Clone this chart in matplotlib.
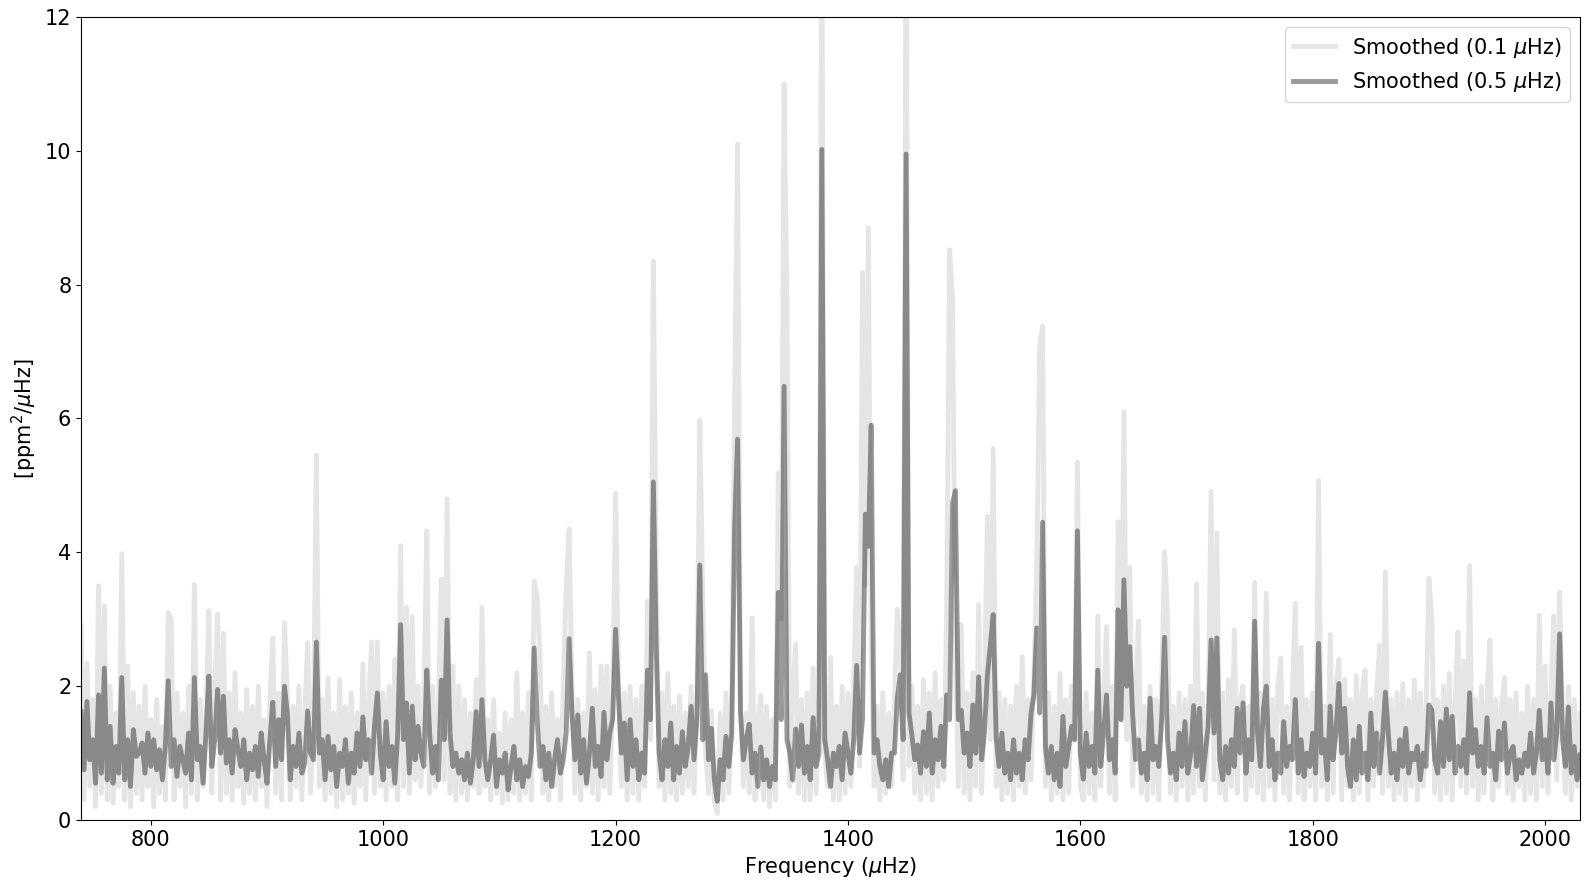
import numpy as np
import matplotlib
matplotlib.use("Agg")
import matplotlib.pyplot as plt

# frequency grid of the read-off values (muHz)
freq_start = 740.0
freq_step = 2.5

# power density smoothed over 0.1 muHz, one row per 25 muHz, starting at 740
light_power = [
    2.9, 0.3, 2.35, 0.5, 1.8, 0.2, 3.5, 0.4, 3.2, 0.3,      # 740
    2.0, 0.25, 1.6, 0.5, 3.98, 0.3, 2.3, 0.2, 1.9, 0.4,     # 765
    1.7, 0.3, 2.0, 0.5, 1.5, 0.2, 1.8, 0.4, 1.4, 0.3,       # 790
    3.1, 3.0, 0.3, 1.9, 0.5, 1.6, 0.2, 2.0, 0.4, 3.52,      # 815
    0.3, 1.8, 0.5, 1.6, 3.13, 0.4, 2.0, 3.08, 0.3, 2.79,    # 840
    0.4, 1.9, 0.3, 2.2, 0.5, 1.6, 0.25, 1.95, 0.4, 1.7,     # 865
    0.3, 2.0, 0.5, 1.5, 0.2, 1.8, 2.72, 0.4, 1.9, 0.3,      # 890
    2.95, 1.9, 0.3, 1.7, 0.5, 2.0, 0.3, 1.6, 2.65, 0.4,     # 915
    1.5, 5.45, 0.5, 1.8, 0.3, 2.12, 0.4, 1.6, 0.2, 2.1,     # 940
    0.3, 1.7, 0.4, 1.9, 0.25, 1.6, 0.5, 2.33, 0.3, 1.8,     # 965
    2.66, 0.4, 2.66, 0.5, 1.9, 0.3, 2.0, 0.5, 2.4, 0.3,     # 990
    4.1, 0.5, 3.18, 0.4, 3.04, 0.6, 2.0, 0.5, 1.8, 4.32,    # 1015
    0.4, 2.0, 0.5, 1.7, 3.6, 0.6, 4.8, 0.4, 2.3, 0.3,       # 1040
    2.0, 0.4, 1.8, 0.3, 1.6, 0.5, 2.1, 0.4, 3.18, 0.5,      # 1065
    1.5, 0.3, 1.8, 0.4, 1.3, 0.25, 1.6, 0.3, 1.5, 0.4,      # 1090
    2.2, 0.3, 1.6, 0.4, 1.9, 0.3, 3.57, 3.34, 2.44, 0.4,    # 1115
    1.7, 0.3, 1.9, 0.5, 1.5, 0.3, 2.0, 3.46, 4.35, 1.92,    # 1140
    0.4, 1.8, 0.3, 1.6, 0.5, 2.5, 0.4, 1.95, 0.3, 2.3,      # 1165
    0.5, 2.3, 0.4, 1.8, 4.88, 2.1, 0.5, 1.9, 0.3, 2.0,      # 1190
    0.4, 1.8, 0.3, 2.0, 0.5, 3.27, 1.2, 8.35, 3.73, 0.5,    # 1215
    1.9, 0.3, 2.19, 0.4, 1.7, 0.3, 1.85, 0.4, 1.6, 0.5,     # 1240
    2.0, 0.4, 1.9, 5.98, 3.41, 1.0, 0.4, 1.64, 0.3, 0.1,    # 1265
    1.6, 0.3, 1.9, 0.4, 2.0, 6.4, 10.1, 1.8, 0.5, 1.6,      # 1290
    0.4, 3.02, 0.3, 1.5, 1.86, 0.3, 1.7, 0.2, 1.5, 0.3,     # 1315
    5.18, 3.0, 11.0, 7.7, 0.5, 1.9, 2.63, 0.4, 1.8, 0.3,    # 1340
    1.9, 0.3, 2.27, 0.4, 1.8, 14.0, 1.0, 0.5, 2.43, 0.3,    # 1365
    1.7, 0.3, 2.0, 0.4, 1.9, 0.5, 2.1, 3.78, 0.8, 8.18,     # 1390
    3.5, 8.85, 2.5, 0.5, 1.7, 0.3, 1.9, 0.4, 1.6, 0.5,      # 1415
    1.8, 3.15, 2.58, 0.6, 14.0, 0.8, 2.0, 0.4, 1.7, 0.3,    # 1440
    2.1, 0.4, 1.9, 0.3, 2.2, 0.5, 1.8, 0.6, 3.25, 8.52,     # 1465
    7.8, 2.5, 0.5, 2.92, 0.4, 1.9, 0.3, 2.2, 0.5, 3.22,     # 1490
    0.4, 2.0, 4.54, 1.2, 5.55, 0.5, 1.9, 0.3, 1.8, 0.4,     # 1515
    1.7, 0.3, 2.0, 0.5, 2.44, 0.4, 1.8, 0.6, 2.2, 3.74,     # 1540
    7.1, 7.38, 0.5, 1.9, 0.3, 1.7, 0.4, 2.19, 0.3, 1.8,     # 1565
    0.4, 2.0, 1.2, 5.35, 0.5, 0.3, 1.9, 0.4, 1.6, 0.3,      # 1590
    3.05, 0.5, 1.8, 2.89, 0.4, 2.0, 0.3, 4.46, 1.5, 6.1,    # 1615
    1.2, 3.78, 0.5, 1.9, 2.97, 0.4, 1.7, 0.3, 2.0, 0.4,     # 1640
    1.8, 0.3, 2.1, 4.01, 3.09, 0.4, 1.7, 0.3, 1.9, 0.5,     # 1665
    1.8, 0.3, 2.0, 0.4, 3.53, 0.5, 1.9, 0.3, 1.6, 4.91,     # 1690
    0.6, 4.29, 0.4, 1.9, 0.3, 2.1, 0.5, 2.84, 0.4, 1.8,     # 1715
    2.0, 0.3, 1.7, 0.5, 3.55, 0.4, 1.9, 0.3, 3.39, 0.5,     # 1740
    1.8, 0.3, 2.0, 2.42, 0.4, 1.7, 0.3, 1.9, 3.24, 0.4,     # 1765
    2.58, 0.3, 1.8, 0.5, 1.9, 0.3, 5.07, 0.5, 1.7, 0.3,     # 1790
    2.77, 0.4, 2.0, 2.4, 0.3, 2.1, 0.5, 1.8, 0.3, 2.15,     # 1815
    0.4, 1.9, 2.24, 0.3, 1.8, 0.5, 1.9, 2.61, 0.4, 3.71,    # 1840
    0.5, 1.8, 0.3, 1.9, 0.4, 2.04, 0.3, 1.8, 0.5, 2.09,     # 1865
    0.3, 1.9, 0.5, 1.7, 3.61, 3.0, 0.4, 1.8, 0.3, 2.0,      # 1890
    0.4, 2.19, 0.3, 1.8, 2.81, 0.5, 2.38, 0.4, 3.8, 0.5,    # 1915
    1.8, 0.3, 2.0, 0.4, 1.9, 2.69, 0.3, 1.8, 0.5, 1.7,      # 1940
    2.13, 0.4, 1.8, 0.3, 1.9, 0.5, 1.6, 0.3, 2.0, 0.4,      # 1965
    1.8, 0.3, 3.06, 0.5, 2.3, 0.4, 1.9, 3.05, 0.6, 3.4,     # 1990
    1.5, 0.4, 2.0, 0.3, 1.8, 0.5, 1.6, 0.4, 1.5, 0.5,       # 2015
]

# power density smoothed over 0.5 muHz, same grid
dark_power = [
    1.62, 0.75, 1.77, 0.9, 1.2, 0.55, 1.87, 0.7, 2.27, 0.6,     # 740
    1.4, 0.55, 1.1, 0.7, 2.13, 0.6, 1.2, 0.5, 1.35, 0.95,       # 765
    1.0, 1.15, 0.7, 1.3, 0.8, 1.2, 0.75, 1.05, 0.6, 1.1,        # 790
    2.08, 0.8, 1.2, 0.65, 1.1, 0.9, 0.7, 1.3, 0.6, 2.13,        # 815
    0.9, 1.1, 0.55, 1.3, 2.15, 0.8, 1.2, 1.95, 1.0, 1.85,       # 840
    0.85, 1.2, 0.7, 1.35, 1.05, 0.8, 1.2, 0.6, 1.0, 0.75,       # 865
    1.1, 0.65, 1.3, 0.9, 0.55, 1.2, 1.76, 0.8, 1.5, 0.9,        # 890
    2.0, 1.6, 0.6, 1.1, 0.8, 1.3, 0.7, 0.85, 1.63, 1.0,         # 915
    0.9, 2.66, 1.0, 1.2, 0.6, 1.25, 0.75, 1.1, 0.5, 1.0,        # 940
    0.8, 1.2, 0.55, 1.0, 0.7, 1.3, 0.8, 1.54, 0.9, 1.2,         # 965
    0.7, 1.4, 1.9, 1.0, 0.6, 1.47, 0.8, 1.1, 0.55, 1.3,         # 990
    2.92, 1.2, 1.75, 0.7, 1.7, 0.9, 1.4, 1.0, 0.8, 2.24,        # 1015
    1.3, 0.7, 1.1, 0.6, 2.09, 1.2, 2.99, 1.3, 0.8, 1.0,         # 1040
    0.7, 0.9, 0.6, 1.0, 0.55, 0.9, 1.62, 0.8, 1.8, 0.9,         # 1065
    0.6, 0.9, 1.27, 0.5, 0.9, 0.7, 1.0, 0.45, 0.8, 1.1,         # 1090
    0.6, 0.9, 0.5, 0.8, 0.65, 1.0, 2.57, 1.5, 0.8, 1.1,         # 1115
    0.6, 1.0, 0.5, 0.9, 1.2, 0.7, 0.9, 1.3, 2.71, 1.57,         # 1140
    0.9, 1.57, 0.7, 1.2, 0.55, 1.0, 1.67, 0.8, 1.1, 0.65,       # 1165
    1.61, 0.9, 1.3, 1.5, 2.85, 1.83, 1.0, 1.45, 0.6, 1.5,       # 1190
    0.8, 1.2, 0.6, 1.0, 0.7, 2.24, 1.5, 5.05, 2.54, 1.0,        # 1215
    0.6, 1.2, 0.8, 1.45, 0.6, 1.1, 0.7, 1.32, 0.8, 1.1,         # 1240
    1.7, 0.9, 1.5, 3.81, 1.2, 2.17, 0.9, 1.37, 0.6, 0.28,       # 1265
    0.9, 0.6, 1.25, 0.8, 1.3, 4.38, 5.69, 1.61, 0.9, 1.2,       # 1290
    1.43, 0.7, 1.0, 0.5, 1.09, 0.6, 0.9, 0.5, 0.8, 0.6,         # 1315
    3.40, 1.5, 6.48, 1.2, 1.0, 0.6, 1.36, 0.8, 1.42, 0.7,       # 1340
    1.1, 0.6, 1.53, 0.8, 1.0, 10.02, 1.2, 0.9, 0.5, 1.0,        # 1365
    0.8, 1.1, 0.6, 1.3, 1.0, 0.7, 1.2, 2.31, 1.0, 1.5,          # 1390
    4.57, 4.09, 5.9, 1.0, 1.2, 0.8, 0.6, 0.9, 0.5, 1.0,         # 1415
    1.0, 1.82, 2.17, 1.2, 9.95, 1.6, 1.27, 0.9, 1.12, 0.7,      # 1440
    1.32, 0.8, 1.6, 0.7, 1.2, 0.9, 1.4, 0.8, 1.87, 1.5,         # 1465
    4.73, 4.92, 1.5, 1.64, 1.0, 1.3, 0.8, 1.72, 1.0, 2.14,      # 1490
    0.9, 1.3, 2.17, 2.6, 3.07, 1.25, 0.8, 1.3, 0.7, 1.0,        # 1515
    0.6, 1.2, 0.7, 1.0, 0.6, 1.2, 0.9, 1.58, 1.87, 2.87,        # 1540
    1.6, 4.45, 1.09, 0.7, 1.1, 0.6, 1.0, 0.5, 1.55, 0.8,        # 1565
    1.1, 1.4, 1.2, 4.32, 1.0, 0.61, 1.3, 0.8, 1.1, 0.7,         # 1590
    2.24, 0.8, 1.3, 1.87, 0.9, 1.2, 0.7, 3.14, 1.5, 3.59,       # 1615
    2.0, 2.59, 1.57, 0.9, 1.2, 0.7, 1.0, 0.6, 1.82, 0.9,        # 1640
    1.1, 0.8, 1.5, 2.73, 1.2, 0.7, 1.0, 0.6, 1.3, 0.8,          # 1665
    1.47, 0.7, 1.0, 1.71, 0.8, 1.67, 0.6, 1.0, 1.4, 2.69,       # 1690
    1.3, 2.72, 0.9, 0.6, 1.1, 0.7, 1.2, 0.8, 1.67, 1.0,         # 1715
    1.75, 0.7, 1.2, 0.9, 2.97, 1.3, 0.8, 1.65, 2.0, 0.8,        # 1740
    1.2, 0.6, 1.0, 0.7, 1.47, 0.8, 1.1, 0.9, 1.8, 0.7,          # 1765
    1.2, 0.65, 1.0, 0.8, 1.3, 0.7, 2.64, 1.0, 1.2, 0.6,         # 1790
    1.7, 0.9, 1.3, 2.04, 1.0, 1.67, 0.8, 0.5, 1.2, 0.6,         # 1815
    1.4, 0.7, 1.0, 0.6, 1.6, 0.8, 1.3, 0.7, 1.2, 1.91,          # 1840
    1.3, 0.7, 1.0, 0.6, 1.2, 0.8, 1.37, 0.7, 1.0, 0.9,          # 1865
    1.1, 0.6, 1.0, 0.8, 1.72, 1.64, 0.9, 0.7, 1.47, 0.8,        # 1890
    1.66, 0.9, 1.55, 0.7, 1.1, 0.8, 1.2, 0.7, 1.9, 1.0,         # 1915
    1.35, 0.8, 1.1, 0.7, 1.53, 0.8, 1.0, 0.6, 1.33, 0.9,        # 1940
    1.45, 0.7, 1.0, 1.1, 0.6, 0.9, 0.7, 1.0, 0.8, 1.3,          # 1965
    0.7, 1.0, 1.64, 0.9, 1.2, 0.7, 1.75, 0.9, 1.3, 2.78,        # 1990
    1.2, 0.8, 1.69, 0.7, 1.1, 0.6, 0.98, 0.9, 1.0, 1.0,         # 2015
]

freq_light = freq_start + freq_step * np.arange(len(light_power))
freq_dark = freq_start + freq_step * np.arange(len(dark_power))

fig, ax = plt.subplots(figsize=(15.9, 8.89), dpi=100)
fig.subplots_adjust(left=0.051, right=0.9937, top=0.981, bottom=0.0776)

ax.plot(freq_light, light_power, color="k", alpha=0.1, lw=3.5, label=r"Smoothed (0.1 $\mu$Hz)")
ax.plot(freq_dark, dark_power, color="k", alpha=0.4, lw=3.5, label=r"Smoothed (0.5 $\mu$Hz)")

ax.set_xlim(740, 2030)
ax.set_ylim(0, 12)
ax.set_xticks(np.arange(800, 2001, 200))
ax.set_yticks(np.arange(0, 13, 2))
ax.tick_params(labelsize=15)
ax.set_xlabel(r"Frequency ($\mu$Hz)", fontsize=15)
ax.set_ylabel(r"[ppm$^2$/$\mu$Hz]", fontsize=15)
ax.legend(loc="upper right", fontsize=15)

fig.savefig("out.png")
